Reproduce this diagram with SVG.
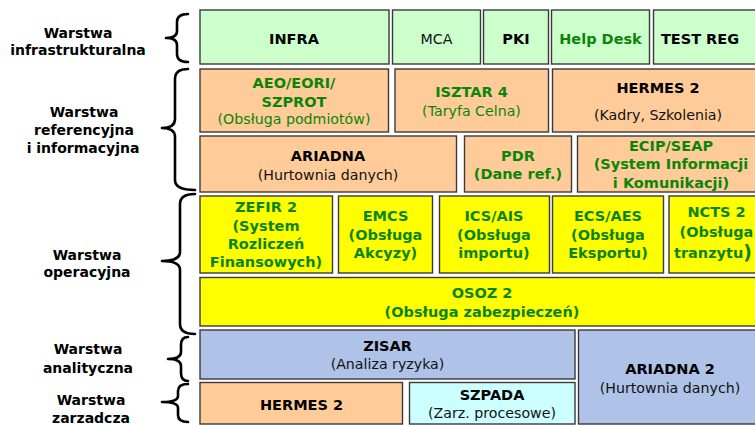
<svg xmlns="http://www.w3.org/2000/svg" width="755" height="425" viewBox="0 0 755 425">
<style>
.box{stroke:#3a3a3a;stroke-width:1.4}
.g{fill:#CCFFCC}.o{fill:#FFCC99}.y{fill:#FFFF00}.b{fill:#AFC3E8}.c{fill:#CCFFFF}
text{font-family:"DejaVu Sans","Liberation Sans",sans-serif;text-anchor:middle}
.lb{font-size:14px;font-weight:bold;fill:#000}
.tb{font-size:14.5px;font-weight:bold;fill:#000}
.tr{font-size:14.2px;fill:#111}
.gb{font-size:14.5px;font-weight:bold;fill:#0A850A}
.gr{font-size:14.2px;fill:#0A850A}
.br{fill:none;stroke:#000;stroke-width:2.6;stroke-linecap:round;stroke-linejoin:round}
</style>
<rect width="755" height="425" fill="#fff"/>
<g id="labels">
<g id="lbl-infra"><text class="lb" x="78" y="38">Warstwa</text><text class="lb" x="78" y="55">infrastrukturalna</text></g>
<g id="lbl-ref"><text class="lb" x="84" y="117">Warstwa</text><text class="lb" x="84" y="135">referencyjna</text><text class="lb" x="83" y="153">i informacyjna</text></g>
<g id="lbl-oper"><text class="lb" x="87" y="260">Warstwa</text><text class="lb" x="87" y="277">operacyjna</text></g>
<g id="lbl-anal"><text class="lb" x="88" y="354">Warstwa</text><text class="lb" x="88" y="373">analityczna</text></g>
<g id="lbl-zarz"><text class="lb" x="91" y="405">Warstwa</text><text class="lb" x="91" y="423">zarzadcza</text></g>
</g>
<g id="connectors">
<path class="br" d="M188,14 Q177,14 177,22 L177,31 Q177,38 166,38 Q177,38 177,45 L177,54 Q177,62 188,62"/>
<path class="br" d="M188,69 Q175,69 175,79 L175,119 Q175,128 162,128 Q175,128 175,137 L175,180 Q175,190 195,190"/>
<path class="br" d="M195,194 Q180,194 180,204 L180,252 Q180,261 162,261 Q180,261 180,270 L180,324 Q180,334 195,334"/>
<path class="br" d="M188,337 Q181,337 181,345 L181,352 Q181,359 168,359 Q181,359 181,366 L181,373 Q181,381 188,381"/>
<path class="br" d="M188,384 Q178,384 178,391 L178,396 Q178,402 162,402 Q178,402 178,408 L178,415 Q178,422 188,422"/>
</g>
<g id="infra"><rect class="box g" x="200" y="10" width="189" height="54"/><text class="tb" x="294" y="44">INFRA</text></g>
<g id="mca"><rect class="box g" x="392.5" y="10" width="88" height="54"/><text class="tr" x="436.5" y="44">MCA</text></g>
<g id="pki"><rect class="box g" x="483.5" y="10" width="65" height="54"/><text class="tb" x="516" y="44">PKI</text></g>
<g id="helpdesk"><rect class="box g" x="551.5" y="10" width="98" height="54"/><text class="gb" x="600.5" y="44">Help Desk</text></g>
<g id="testreg"><rect class="box g" x="653.5" y="10" width="110" height="54"/><text class="tb" x="700" y="44">TEST REG</text></g>
<g id="aeo"><rect class="box o" x="200" y="69" width="188.5" height="63"/><text class="gb" x="294" y="88">AEO/EORI/</text><text class="gb" x="294" y="107">SZPROT</text><text class="gr" x="294" y="124">(Obsługa podmiotów)</text></g>
<g id="isztar"><rect class="box o" x="395" y="69" width="153.5" height="63"/><text class="gb" x="471.5" y="97">ISZTAR 4</text><text class="gr" x="471.5" y="116">(Taryfa Celna)</text></g>
<g id="hermes-ref"><rect class="box o" x="552.5" y="69" width="210" height="63"/><text class="tb" x="658" y="93">HERMES 2</text><text class="tr" x="658" y="120">(Kadry, Szkolenia)</text></g>
<g id="ariadna"><rect class="box o" x="200" y="136" width="256.5" height="56"/><text class="tb" x="328" y="161">ARIADNA</text><text class="tr" x="328" y="180">(Hurtownia danych)</text></g>
<g id="pdr"><rect class="box o" x="464.5" y="136" width="107" height="56"/><text class="gb" x="518" y="161">PDR</text><text class="gb" x="518" y="179">(Dane ref.)</text></g>
<g id="ecip"><rect class="box o" x="577.5" y="136" width="187" height="56"/><text class="gb" x="671" y="151">ECIP/SEAP</text><text class="gb" x="671" y="169">(System Informacji</text><text class="gb" x="671" y="188">i Komunikacji)</text></g>
<g id="zefir"><rect class="box y" x="200" y="196" width="132.5" height="77"/><text class="gb" x="266" y="212">ZEFIR 2</text><text class="gb" x="266" y="231">(System</text><text class="gb" x="266" y="249">Rozliczeń</text><text class="gb" x="266" y="267">Finansowych)</text></g>
<g id="emcs"><rect class="box y" x="338.5" y="196" width="94" height="77"/><text class="gb" x="385.5" y="221">EMCS</text><text class="gb" x="385.5" y="240">(Obsługa</text><text class="gb" x="385.5" y="258">Akcyzy)</text></g>
<g id="ics"><rect class="box y" x="439.5" y="196" width="110" height="77"/><text class="gb" x="494" y="221">ICS/AIS</text><text class="gb" x="494" y="240">(Obsługa</text><text class="gb" x="494" y="258">importu)</text></g>
<g id="ecs"><rect class="box y" x="552.5" y="196" width="111" height="77"/><text class="gb" x="608" y="221">ECS/AES</text><text class="gb" x="608" y="240">(Obsługa</text><text class="gb" x="608" y="258">Eksportu)</text></g>
<g id="ncts"><rect class="box y" x="669" y="196" width="95" height="77"/><text class="gb" x="716.5" y="217">NCTS 2</text><text class="gb" x="716.5" y="237">(Obsługa</text><text class="gb" x="713" y="258">tranzytu<tspan font-size="19px" dy="1">)</tspan></text></g>
<g id="osoz"><rect class="box y" x="200" y="277.5" width="564" height="48.5"/><text class="gb" x="482" y="298">OSOZ 2</text><text class="gb" x="482" y="317">(Obsługa zabezpieczeń)</text></g>
<g id="zisar"><rect class="box b" x="200" y="330" width="375" height="49"/><text class="tb" x="387.5" y="351">ZISAR</text><text class="tr" x="387.5" y="369">(Analiza ryzyka)</text></g>
<g id="ariadna2"><rect class="box b" x="578.5" y="330" width="184" height="94"/><text class="tb" x="670" y="374">ARIADNA 2</text><text class="tr" x="670" y="393">(Hurtownia danych)</text></g>
<g id="hermes-zarz"><rect class="box o" x="200" y="382.5" width="202.5" height="41.5"/><text class="tb" x="301.5" y="410">HERMES 2</text></g>
<g id="szpada"><rect class="box c" x="409.5" y="382.5" width="165.5" height="41.5"/><text class="tb" x="492" y="400">SZPADA</text><text class="tr" x="492" y="418">(Zarz. procesowe)</text></g>
</svg>
